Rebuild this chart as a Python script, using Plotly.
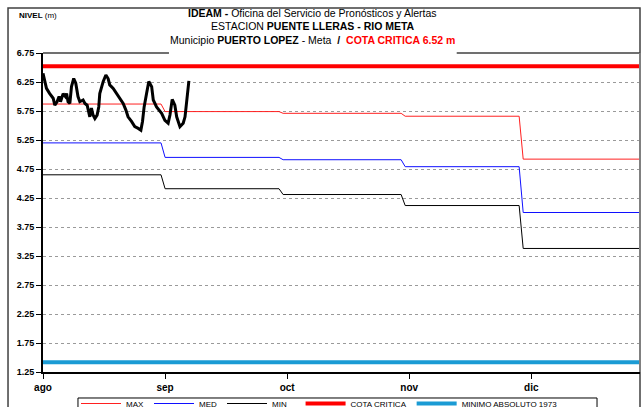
import plotly.graph_objects as go

# Monthly reference levels (m), one value per month Aug..Dec
months = ["ago", "sep", "oct", "nov", "dic"]
month_days = [30, 29, 30, 29, 30]          # days per month segment on the chart
level_max = [5.87, 5.74, 5.71, 5.66, 4.92]
level_med = [5.20, 4.95, 4.91, 4.79, 4.00]
level_min = [4.65, 4.41, 4.31, 4.12, 3.38]

cota_critica = 6.52
minimo_1973 = 1.42

# Observed water level (day offset from 1 Aug, level in m)
obs_day = [0.0, 0.45, 0.85, 1.65, 2.5, 2.9, 3.45, 3.95, 4.3, 4.95,
           5.5, 5.8, 6.15, 6.6, 7.0, 7.55, 8.05, 8.6, 9.05, 9.85,
           10.3, 10.85, 11.25, 11.5, 11.9, 12.3, 12.75, 13.3, 13.7, 13.95,
           14.8, 15.45, 16.0, 16.4, 17.25, 18.05, 18.9, 19.7, 20.35, 20.9,
           21.75, 22.55, 23.4, 24.05, 24.45, 24.85, 25.45, 26.0, 26.7, 27.1,
           27.9, 29.15, 29.95, 30.75, 31.2, 31.75, 32.4, 32.85, 33.65, 34.45,
           34.9, 35.3, 35.85]
obs_val = [6.40, 6.26, 6.14, 6.05, 5.97, 5.85, 5.91, 6.00, 5.91, 6.05,
           6.00, 6.05, 5.91, 5.88, 6.17, 6.31, 6.23, 6.00, 5.91, 5.94,
           5.88, 5.85, 5.74, 5.65, 5.80, 5.68, 5.62, 5.68, 5.82, 6.05,
           6.26, 6.37, 6.31, 6.20, 6.14, 6.05, 5.97, 5.88, 5.77, 5.65,
           5.57, 5.48, 5.45, 5.42, 5.57, 5.82, 6.05, 6.26, 6.17, 5.94,
           5.82, 5.71, 5.59, 5.54, 5.68, 5.95, 5.85, 5.65, 5.48, 5.54,
           5.65, 5.94, 6.27]

# Build daily series from the monthly levels
days = list(range(sum(month_days)))


def daily(values):
    out = []
    for v, n in zip(values, month_days):
        out.extend([v] * n)
    return out


tick_days = [0, 30, 60, 90, 120]
x_end = 146.7

FONT = "Liberation Sans, Arial"
NBSP = "\u00a0"

fig = go.Figure()
fig.add_trace(go.Scatter(x=days, y=daily(level_max), mode="lines", name="MAX",
                         line=dict(color="#ff2020", width=1)))
fig.add_trace(go.Scatter(x=days, y=daily(level_med), mode="lines", name="MED",
                         line=dict(color="#1010ff", width=1)))
fig.add_trace(go.Scatter(x=days, y=daily(level_min), mode="lines",
                         name="MIN" + NBSP * 4,
                         line=dict(color="#000000", width=1)))
fig.add_trace(go.Scatter(x=days, y=[cota_critica] * len(days), mode="lines",
                         name="COTA CRITICA",
                         line=dict(color="#ff0000", width=4)))
fig.add_trace(go.Scatter(x=days, y=[minimo_1973] * len(days), mode="lines",
                         name="MINIMO ABSOLUTO 1973",
                         line=dict(color="#1b9bd4", width=4)))
fig.add_trace(go.Scatter(x=obs_day, y=obs_val, mode="lines", name="NIVEL",
                         showlegend=False,
                         line=dict(color="#000000", width=3)))

title_lines = [
    "<b>IDEAM -</b> Oficina del Servicio de Pronósticos y Alertas",
    "ESTACION <b>PUENTE LLERAS - RIO META</b>",
    "Municipio <b>PUERTO LOPEZ</b> - Meta  <b>/</b>  "
    "<span style='color:#ff0000'><b>COTA CRITICA 6.52 m</b></span>",
]
title_y = [1.1254, 1.0846, 1.0408]

annotations = [
    dict(xref="paper", yref="paper", x=0.452, y=yy, xanchor="center",
         yanchor="middle", showarrow=False,
         font=dict(family=FONT, size=10.5, color="#000"), text=t)
    for t, yy in zip(title_lines, title_y)
]
annotations.append(
    dict(xref="paper", yref="paper", x=-0.043, y=1.119, xanchor="left",
         yanchor="middle", showarrow=False,
         font=dict(family=FONT, size=8, color="#000"),
         text="<b>NIVEL</b> (m)"))

fig.update_layout(
    width=643, height=407,
    margin=dict(l=43, r=3, t=53, b=35, autoexpand=False),
    paper_bgcolor="white", plot_bgcolor="white",
    showlegend=True,
    legend=dict(orientation="h", x=0.0553, xanchor="left", y=-0.0533,
                yanchor="top", bgcolor="rgba(0,0,0,0)", borderwidth=0,
                font=dict(family=FONT, size=8, color="#000"),
                itemwidth=40, tracegroupgap=0),
    xaxis=dict(range=[0, x_end], tickmode="array", tickvals=tick_days,
               ticktext=months, showgrid=False, zeroline=False,
               showline=True, linecolor="#000", linewidth=2,
               ticks="outside", ticklen=5, tickcolor="#000",
               tickfont=dict(family=FONT, size=10, color="#000",
                             weight="bold")),
    yaxis=dict(range=[1.25, 6.75], dtick=0.5, tick0=1.25, tickformat=".2f",
               showgrid=True, gridcolor="#9a9a9a", griddash="dot",
               gridwidth=1, zeroline=False,
               showline=True, linecolor="#000", linewidth=2,
               ticks="outside", ticklen=5, tickcolor="#000",
               tickfont=dict(family=FONT, size=9, color="#000",
                             weight="bold")),
    shapes=[
        # outer chart frame
        dict(type="rect", xref="paper", yref="paper",
             x0=-0.0586, x1=1.0, y0=-0.2, y1=1.141,
             line=dict(color="#404040", width=1.5), layer="below"),
        # legend frame
        dict(type="rect", xref="paper", yref="paper",
             x0=0.0586, x1=0.928, y0=-0.2, y1=-0.0815,
             line=dict(color="#000000", width=1)),
        # plot area top edge, interrupted under the title
        dict(type="line", xref="paper", yref="paper", x0=0, x1=0.211,
             y0=1, y1=1, line=dict(color="#404040", width=1.5)),
        dict(type="line", xref="paper", yref="paper", x0=0.693, x1=1,
             y0=1, y1=1, line=dict(color="#404040", width=1.5)),
        # plot area right edge
        dict(type="line", xref="paper", yref="paper", x0=1, x1=1, y0=0, y1=1,
             line=dict(color="#808080", width=2)),
    ],
    annotations=annotations,
)

fig.write_html("out.html")
